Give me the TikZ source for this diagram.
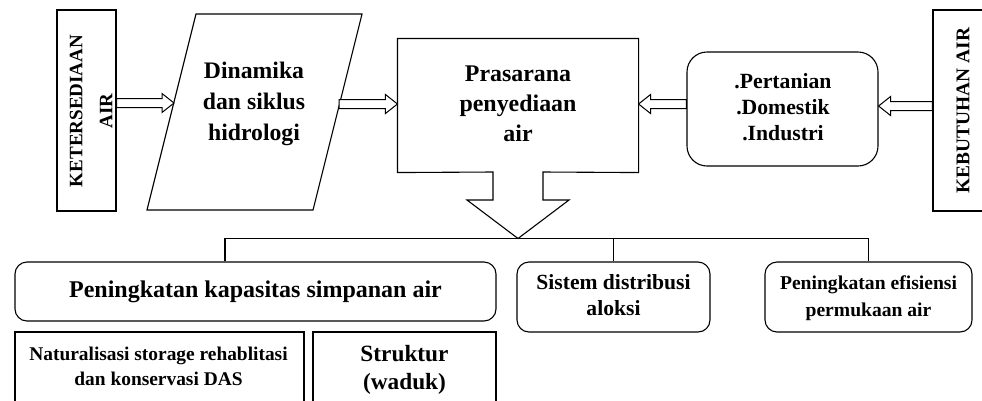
\documentclass[tikz,border=0pt]{standalone}
\usepackage{fontspec}
\setmainfont{Liberation Serif}
\usetikzlibrary{calc}
\newcommand\fs[2]{\fontsize{#1}{#2}\selectfont\bfseries}
\newcommand\hollowarrow[2]{%
  \coordinate (hb) at ($(#2)!12pt!(#1)$);
  \draw[harrow] ($(#1)!4.5pt!90:(#2)$) -- ($(hb)!4.5pt!-90:(#1)$) -- ($(hb)!9.5pt!-90:(#1)$)
    -- (#2) -- ($(hb)!9.5pt!90:(#1)$) -- ($(hb)!4.5pt!90:(#1)$) -- ($(#1)!4.5pt!-90:(#2)$) -- cycle;}
\begin{document}
\begin{tikzpicture}[x=1pt,y=-1pt, line width=1.1pt, line join=miter,
  box/.style={draw, rectangle, inner sep=0pt},
  rbox/.style={box, rounded corners=12pt},
  txt/.style={align=center, inner sep=0pt},
  harrow/.style={draw, fill=white, line width=1pt}]
\clip (0,0) rectangle (982,400);
% side boxes
\node[box, minimum width=59pt, minimum height=201pt] (ket) at (86.5,110.5) {};
\node[txt, rotate=90, font=\fs{19}{30}] (kettxt) at (91,111) {KETERSEDIAAN\\AIR};
\node[box, minimum width=58pt, minimum height=201pt] (keb) at (962,110.5) {};
\node[txt, rotate=90, font=\fs{19.4}{24}] (kebtxt) at (963,110.5) {KEBUTUHAN AIR};
% parallelogram
\coordinate (p1) at (196,14);
\coordinate (p2) at (362,14);
\coordinate (p3) at (313,210);
\coordinate (p4) at (147,210);
\draw (p1) -- (p2) -- (p3) -- (p4) -- cycle;
\node[txt, font=\fs{23.7}{31}] (din) at (254,104) {Dinamika\\dan siklus\\hidrologi};
\coordinate (dinW) at (174,103);
\coordinate (dinE) at (339,104);
% prasarana
\node[minimum width=240pt, minimum height=133pt, inner sep=0pt] (pras) at (518,105.5) {};
\coordinate (tip) at (518,238.5);
\draw (pras.south west) -- (pras.north west) -- (pras.north east) -- (pras.south east)
  -- (543,172) -- (543,200) -- (569,200) -- (tip) -- (467,200) -- (493,200) -- (493,172) -- cycle;
\node[txt, font=\fs{23.9}{30}] (prastxt) at (518,104) {Prasarana\\penyediaan\\air};
% pertanian
\node[box, rounded corners=20pt, minimum width=191pt, minimum height=114pt] (pert) at (782.5,109) {};
\node[txt, font=\fs{21.7}{26}] (perttxt) at (783,107) {.Pertanian\\.Domestik\\.Industri};
% hollow arrows
\coordinate (a1) at (ket.east |- 0,103);
\hollowarrow{a1}{dinW}
\coordinate (a2) at (pras.west |- 0,104);
\hollowarrow{dinE}{a2}
\coordinate (a3s) at (pert.west |- 0,104);
\coordinate (a3e) at (pras.east |- 0,104);
\hollowarrow{a3s}{a3e}
\coordinate (a4s) at (keb.west |- 0,106);
\coordinate (a4e) at (pert.east |- 0,106);
\hollowarrow{a4s}{a4e}
% lower boxes
\node[rbox, minimum width=481pt, minimum height=59pt, font=\fs{24}{30}] (kap) at (255.5,291.5) {Peningkatan kapasitas simpanan air};
\node[rbox, minimum width=193pt, minimum height=70pt] (sis) at (613.5,297) {};
\node[txt, font=\fs{21.6}{26}] (sistxt) at (613.5,295.5) {Sistem distribusi\\aloksi};
\node[rbox, minimum width=207pt, minimum height=70pt] (eff) at (868.5,297) {};
\node[txt, font=\fs{19.6}{27}] (efftxt) at (868.5,298) {Peningkatan efisiensi\\permukaan air};
\node[box, minimum width=289pt, minimum height=88pt] (nat) at (159.5,376) {};
\node[txt, font=\fs{19.4}{25}] (nattxt) at (158.5,366) {Naturalisasi storage rehablitasi\\dan konservasi DAS};
\node[box, minimum width=183pt, minimum height=88pt] (str) at (404.5,376) {};
\node[txt, font=\fs{23.3}{28}] (strtxt) at (404.5,369.5) {Struktur\\(waduk)};
% tree connectors
\coordinate (kapdrop) at (kap.north -| 225,0);
\draw (kapdrop) |- (tip) -| (eff.north);
\draw (sis.north) -- (sis.north |- tip);
\end{tikzpicture}
\end{document}
